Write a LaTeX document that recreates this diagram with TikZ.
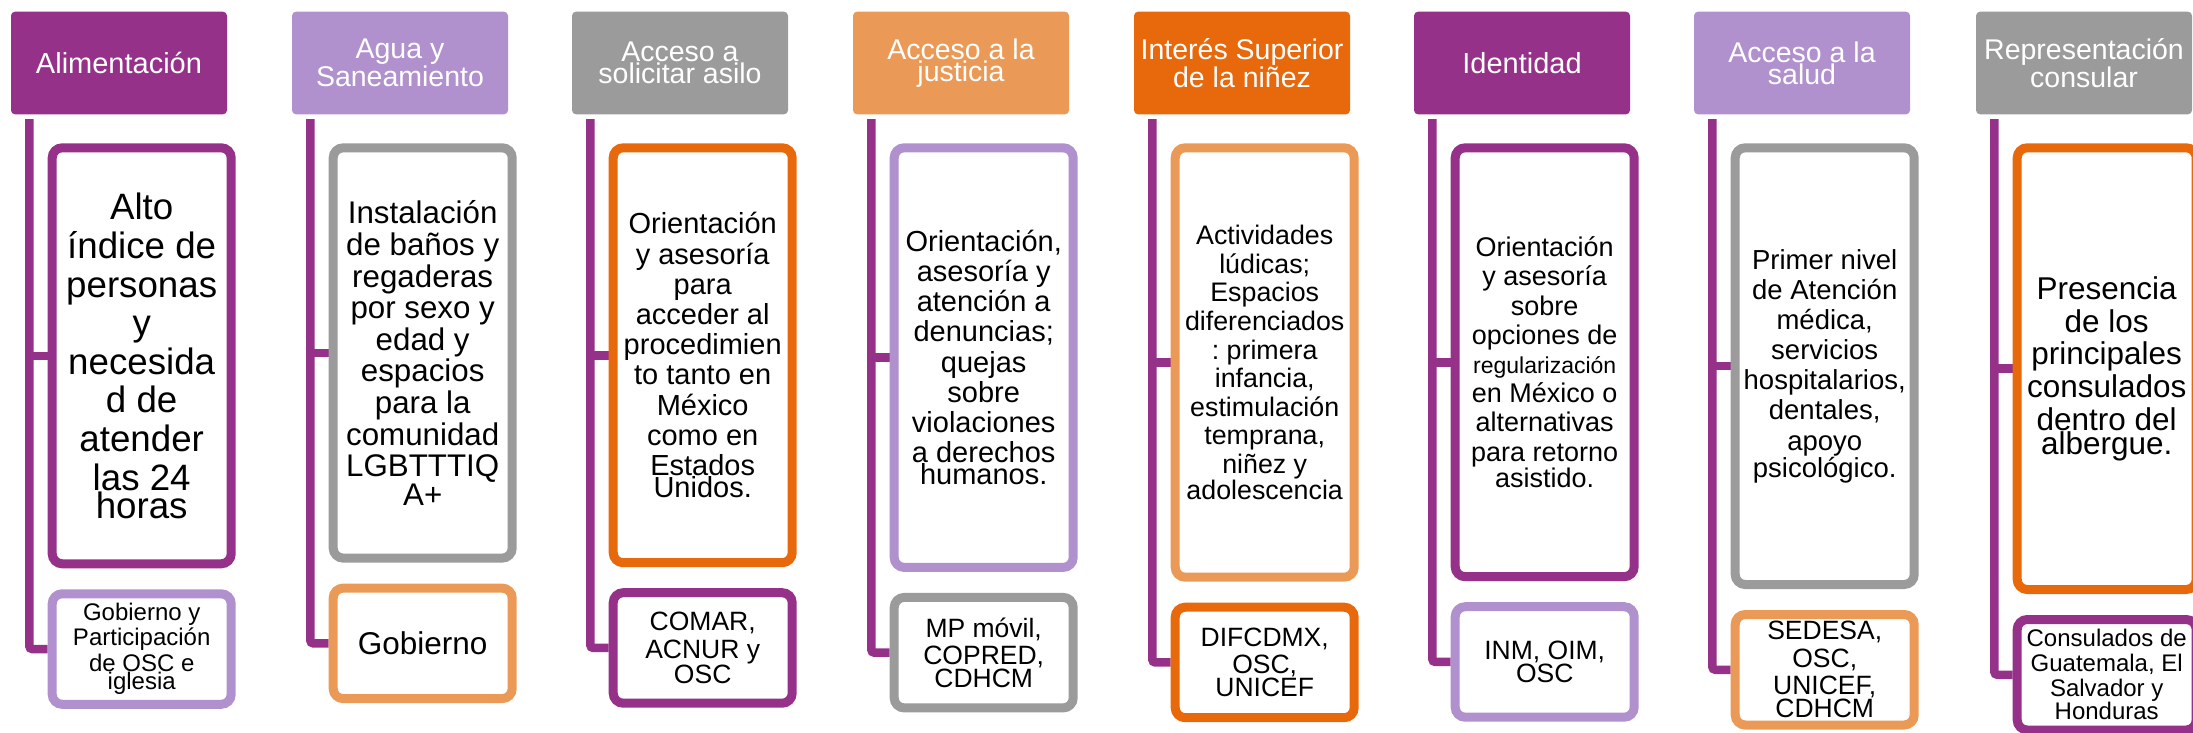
\documentclass[tikz,border=0pt]{standalone}
\usepackage{fontspec}
\setmainfont{Liberation Sans}
\usetikzlibrary{calc}
\pgfdeclarelayer{background}
\pgfsetlayers{background,main}
\definecolor{dpurple}{RGB}{149,49,137}
\definecolor{lpurple}{RGB}{176,145,205}
\definecolor{mgray}{RGB}{155,155,155}
\definecolor{lorange}{RGB}{234,154,86}
\definecolor{dorange}{RGB}{232,104,12}
\newcommand\setfs[2]{\fontsize{#1pt}{#2pt}\selectfont\spaceskip=\fontdimen2\font\relax\xspaceskip=\fontdimen2\font\relax}
% #1 id, #2 header left x, #3 bottom of top box, #4 header colour,
% #5 top box colour, #6 bottom box colour, #7 header text, #8 top text, #9 bottom text
\newcommand\mkcol[9]{%
  \node[hdr, fill=#4] (h#1) at ({#2+108},63) {#7};
  \node[topbox, draw=#5, minimum height={#3-143.3-9}] (t#1) at ({#2+130.7},{(143.3+#3)/2}) {#8};
  \node[botbox, draw=#6] (b#1) at ({#2+130.7},{#3+21+59.75}) {#9};
  \coordinate (v#1) at ([xshift=18.5pt,yshift=-4.7pt]h#1.south west);
  \begin{pgfonlayer}{background}
    \draw[conn] (v#1) |- (b#1.west);
    \draw[conn] (v#1 |- t#1.west) -- (t#1.west);
  \end{pgfonlayer}
}
\begin{document}
\begin{tikzpicture}[x=1pt,y=-1pt,
  hdr/.style={rectangle, rounded corners=4pt, minimum width=216pt, minimum height=102.6pt,
    inner sep=0pt, text=white, align=center, text width=214pt},
  topbox/.style={rectangle, line width=9pt, fill=white, rounded corners=10pt,
    minimum width=179pt, inner sep=0pt, text width=176pt, align=center, text=black},
  botbox/.style={topbox, minimum height=110.5pt},
  conn/.style={draw=dpurple, line width=8.5pt, rounded corners=3pt}]
\useasboundingbox (0,0) rectangle (2193,732);

\mkcol{1}{11}{568.3}{dpurple}{dpurple}{lpurple}
  {\setfs{29}{29}Alimentación}
  {\setfs{36.7}{38.6}Alto\\índice de\\personas\\y\\necesida\\d de\\atender\\las 24\\horas}
  {\setfs{24}{25.3}Gobierno y\\Participación\\de OSC e\\iglesia}

\mkcol{2}{292}{562.6}{lpurple}{mgray}{lorange}
  {\setfs{28.5}{29.5}Agua y\\Saneamiento}
  {\setfs{31.3}{31.6}Instalación\\de baños y\\regaderas\\por sexo y\\edad y\\espacios\\para la\\comunidad\\LGBTTTIQ\\A+}
  {\setfs{31.5}{31.5}Gobierno}

\mkcol{3}{572}{567.2}{mgray}{dorange}{dpurple}
  {\setfs{28.5}{29.5}Acceso a\\solicitar asilo}
  {\setfs{29}{30.2}Orientación\\y asesoría\\para\\acceder al\\procedimien\\to tanto en\\México\\como en\\Estados\\Unidos.}
  {\setfs{26.5}{27.3}COMAR,\\ACNUR y\\OSC}

\mkcol{4}{853}{571.9}{lorange}{lpurple}{mgray}
  {\setfs{28.5}{29.5}Acceso a la\\justicia}
  {\setfs{29}{30.2}Orientación,\\asesoría y\\atención a\\denuncias;\\quejas\\sobre\\violaciones\\a derechos\\humanos.}
  {\setfs{26.5}{27.3}MP móvil,\\COPRED,\\CDHCM}

\mkcol{5}{1134}{581.7}{dorange}{lorange}{dorange}
  {\setfs{28.5}{29.5}Interés Superior\\de la niñez}
  {\setfs{26.8}{28.6}Actividades\\lúdicas;\\Espacios\\diferenciados\\: primera\\infancia,\\estimulación\\temprana,\\niñez y\\adolescencia}
  {\setfs{26.5}{27.3}DIFCDMX,\\OSC,\\UNICEF}

\mkcol{6}{1414}{581.2}{dpurple}{dpurple}{lpurple}
  {\setfs{29}{29}Identidad}
  {\setfs{27}{29.2}Orientación\\y asesoría\\sobre\\opciones de\\{\fontsize{23pt}{29.2pt}\selectfont regularización}\\en México o\\alternativas\\para retorno\\asistido.}
  {\setfs{26.5}{27.3}INM, OIM,\\OSC}

\mkcol{7}{1694}{589}{lpurple}{mgray}{lorange}
  {\setfs{28.5}{29.5}Acceso a la\\salud}
  {\setfs{27.5}{30.1}Primer nivel\\de Atención\\médica,\\servicios\\hospitalarios,\\dentales,\\apoyo\\psicológico.}
  {\setfs{26.5}{27.5}SEDESA,\\OSC,\\UNICEF,\\CDHCM}

\mkcol{8}{1976}{594}{mgray}{dorange}{dpurple}
  {\setfs{28.5}{29.5}Representación\\consular}
  {\setfs{31.5}{32.7}Presencia\\de los\\principales\\consulados\\dentro del\\albergue.}
  {\setfs{24}{24.8}Consulados de\\Guatemala, El\\Salvador y\\Honduras}
\end{tikzpicture}
\end{document}
